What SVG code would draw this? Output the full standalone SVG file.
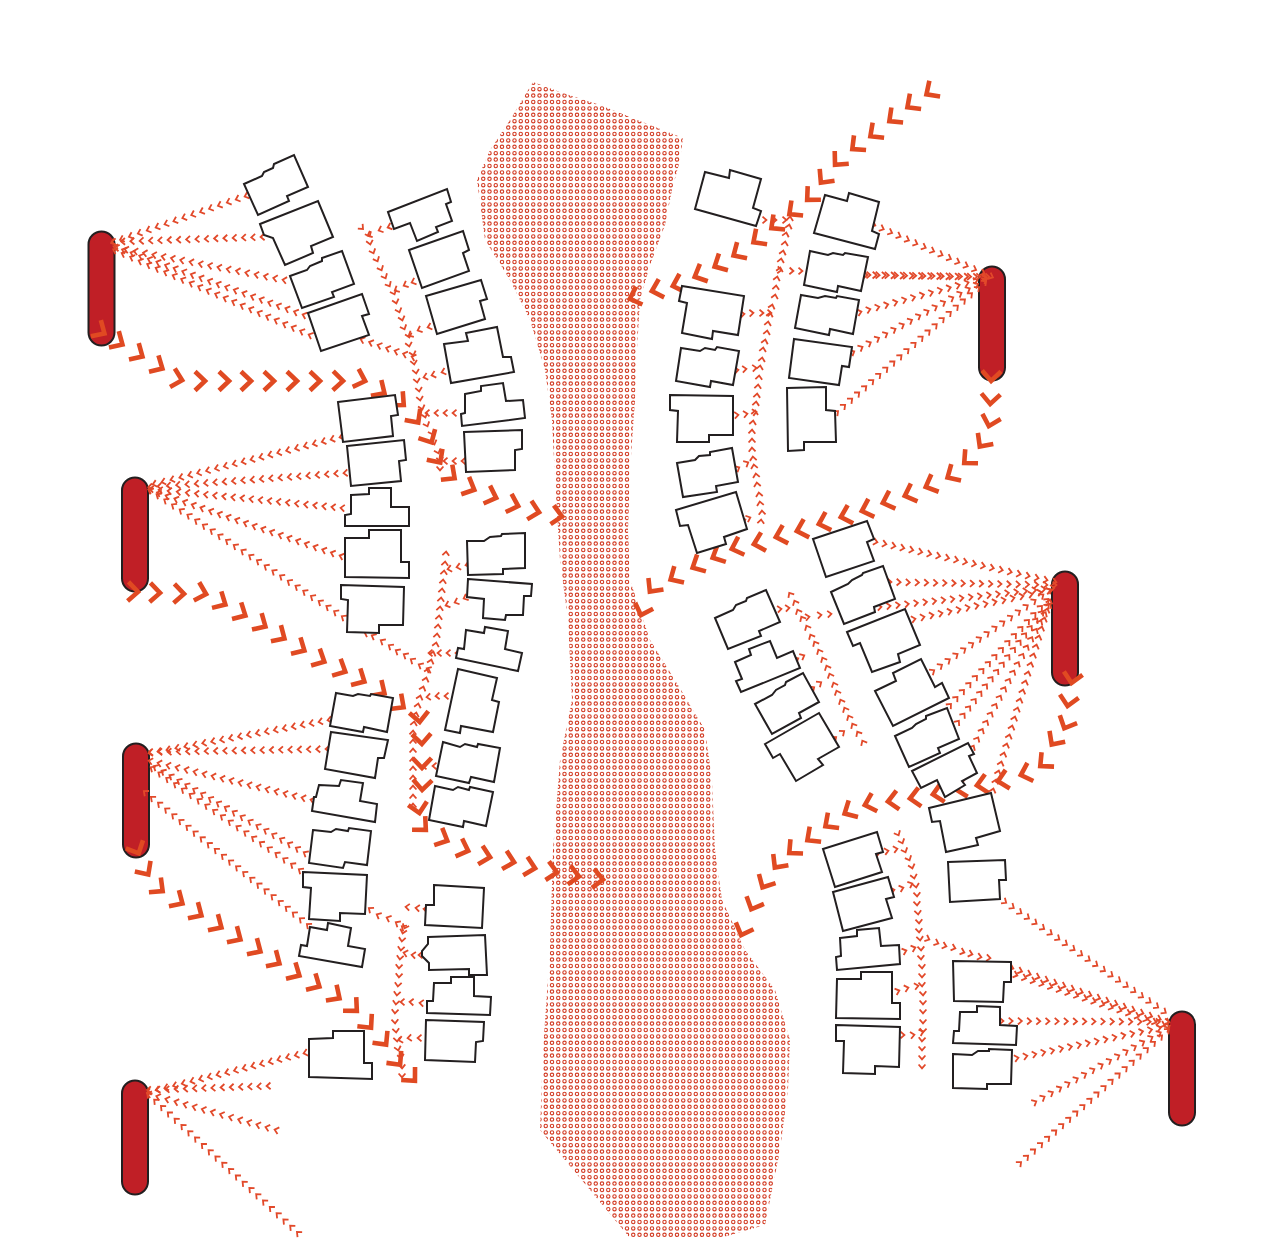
<svg xmlns="http://www.w3.org/2000/svg" width="1261" height="1244" viewBox="0 0 1261 1244">
<style>
.b{fill:#fff;stroke:#231f20;stroke-width:2;stroke-linejoin:miter}
.p{fill:#c01f26;stroke:#231f20;stroke-width:2}
.s{fill:none;stroke:none;marker-start:url(#sm);marker-mid:url(#sm);marker-end:url(#sm)}
.l{fill:none;stroke:none;marker-start:url(#lg);marker-mid:url(#lg);marker-end:url(#lg)}
.d{fill:#fff;stroke:#d23a22;stroke-width:1.1}
</style>
<defs>
<g id="dotrow"><circle class="d" cx="3" cy="0" r="1.7"/><circle class="d" cx="9.25" cy="0" r="1.7"/><circle class="d" cx="15.5" cy="0" r="1.7"/><circle class="d" cx="21.75" cy="0" r="1.7"/></g>
<pattern id="dots" patternUnits="userSpaceOnUse" x="524" y="86" width="25" height="32"><use href="#dotrow" y="3.2"/><use href="#dotrow" y="9.6"/><use href="#dotrow" y="16"/><use href="#dotrow" y="22.4"/><use href="#dotrow" y="28.8"/></pattern>
<marker id="sm" markerUnits="userSpaceOnUse" markerWidth="12" markerHeight="12" overflow="visible" orient="auto"><path d="M-2.5-3.4 1.4 0-2.500 3.4" fill="none" stroke="#e2492a" stroke-width="1.8"/></marker>
<marker id="lg" markerUnits="userSpaceOnUse" markerWidth="30" markerHeight="30" overflow="visible" orient="auto"><path d="M-13-9.500-3 0-13 9.500" fill="none" stroke="#e04a22" stroke-width="4.600"/></marker>
</defs>
<polygon id="river" fill="url(#dots)" points="533,82 560,92 600,105 650,125 683,138 680,160 672,190 665,225 650,265 640,300 637,350 635,400 630,470 628,530 630,580 650,640 675,680 705,730 712,780 715,850 722,900 745,950 775,990 790,1040 788,1090 780,1150 765,1225 720,1238 630,1238 590,1190 540,1130 543,1050 550,950 553,850 560,760 572,700 568,620 560,560 555,480 552,420 545,370 530,320 510,280 485,240 477,180 490,150 510,120"/>
<g id="pill1"><rect class="p" x="88.500" y="231.500" width="26" height="114" rx="13"/></g>
<g id="pill2"><rect class="p" x="122" y="477.500" width="26" height="114" rx="13"/></g>
<g id="pill3"><rect class="p" x="123" y="743.500" width="26" height="114" rx="13"/></g>
<g id="pill4"><rect class="p" x="122" y="1080.500" width="26" height="114" rx="13"/></g>
<g id="pill5"><rect class="p" x="979" y="266.500" width="26" height="114" rx="13"/></g>
<g id="pill6"><rect class="p" x="1052" y="571.500" width="26" height="114" rx="13"/></g>
<g id="pill7"><rect class="p" x="1169" y="1011.500" width="26" height="114" rx="13"/></g>
<g id="connectors">
<path class="l" d="M107 335 125 346 145 358 165 370 185 381 208 381 232 381 254 381 277 381 300 381 323 381 346 381 368 382 387 395 406 407 420 425 433 445 442 465 457 480 477 491 499 499 521 507 542 513 565 517"/>
<path class="l" d="M141 592 163 593 187 594 209 595 228 606 248 617 268 628 287 640 307 652 327 663 348 673 367 683 387 695 406 709"/>
<path class="l" d="M140 856 150 877 165 893 185 905 204 917 224 929 243 941 263 953 282 965 302 977 322 988 342 1000 359 1013 373 1030 388 1047 402 1067 417 1083"/>
<path class="l" d="M420 725 422 747 422 771 422 793 420 816 428 832 450 842 471 852 493 858 517 863 538 869 560 873 582 877 606 880"/>
<path class="l" d="M924 96 905 109 887 123 868 138 850 151 833 167 819 185 805 202 787 216 769 230 751 244 731 257 712 268 692 278 670 287 649 292 627 300"/>
<path class="l" d="M991 384 990 407 988 429 978 449 962 465 945 479 923 488 902 497 880 504 859 512 838 518 816 525 794 532 773 538 751 545 729 550 710 559 690 569 668 581 648 594 640 618"/>
<path class="l" d="M1071 686 1067 709 1063 731 1050 747 1038 768 1018 776 995 782 974 786 953 790 930 795 907 799 885 802 862 806 842 815 823 828 805 842 787 855 773 870 761 890 750 912 740 938"/>
<path class="s" d="M246 196l-8.900 3.100-8.900 3.100-8.900 3.100-8.900 3.100-8.900 3.100-8.900 3.100-8.900 3.100-8.900 3.100-8.900 3.100-8.900 3.100-8.900 3.100-8.900 3.100-8.900 3.100-8.900 3.100-8.900 3.100"/>
<path class="s" d="M262 237l-9.300.3-9.300.3-9.300.3-9.300.3-9.300.3-9.300.3-9.300.3-9.300.3-9.300.3-9.300.3-9.300.3-9.300.3-9.300.3-9.300.3-9.300.3-9.300.3"/>
<path class="s" d="M284 280l-9.300-1.800-9.300-1.800-9.300-1.800-9.300-1.800-9.300-1.800-9.300-1.800-9.300-1.800-9.300-1.800-9.300-1.800-9.300-1.800-9.300-1.800-9.300-1.800-9.300-1.800-9.300-1.800-9.300-1.800-9.300-1.800-9.300-1.800-9.300-1.800"/>
<path class="s" d="M304 315l-8.600-3.100-8.600-3.100-8.600-3.100-8.600-3.100-8.600-3.100-8.600-3.100-8.600-3.100-8.600-3.100-8.600-3.100-8.600-3.100-8.600-3.100-8.600-3.100-8.600-3.100-8.600-3.100-8.600-3.100-8.600-3.100-8.600-3.100-8.600-3.100-8.600-3.100-8.600-3.100-8.600-3.100-8.600-3.100"/>
<path class="s" d="M310 335l-8.500-3.700-8.500-3.700-8.500-3.700-8.500-3.700-8.500-3.700-8.500-3.700-8.500-3.700-8.500-3.700-8.500-3.700-8.500-3.700-8.500-3.700-8.500-3.700-8.500-3.700-8.500-3.700-8.500-3.700-8.500-3.700-8.500-3.700-8.500-3.700-8.500-3.700-8.500-3.700-8.500-3.700-8.500-3.700-8.500-3.700"/>
<path class="s" d="M413 357l-8.500-2.900-8.500-2.900-8.500-2.900-8.500-2.900-8.500-2.900-8.500-2.900"/>
<path class="s" d="M362 228 369 235 370 243 373 252 377 260 381 269 385 277 389 285 394 293 396 302 399 311 402 319 404 328 409 336 409 345 413 354 414 363 416 372 417 381 419 390 420 399 422 408 425 416 427 425 432 433 434 443 438 452 440 460 440 469"/>
<path class="s" d="M389 227 380 230 369 235"/>
<path class="s" d="M413 282 405 285 396 290"/>
<path class="s" d="M429 327 419 330 410 335"/>
<path class="s" d="M443 372 433 375 425 377"/>
<path class="s" d="M454 413 445 413 436 413 427 413"/>
<path class="s" d="M463 461 454 461 445 461"/>
<path class="s" d="M341 437l-8.900 2.240-8.900 2.240-8.900 2.240-8.900 2.240-8.900 2.240-8.900 2.240-8.900 2.240-8.900 2.240-8.900 2.240-8.900 2.240-8.900 2.240-8.900 2.240-8.900 2.240-8.900 2.240-8.900 2.240-8.900 2.240-8.900 2.240-8.900 2.240-8.900 2.240-8.900 2.240-8.900 2.240"/>
<path class="s" d="M345 473l-9.300.67-9.300.67-9.300.67-9.300.67-9.300.67-9.300.67-9.300.67-9.300.67-9.300.67-9.300.67-9.300.67-9.300.67-9.300.67-9.300.67-9.300.67-9.300.67-9.300.67-9.300.67-9.300.67-9.300.67-9.300.67"/>
<path class="s" d="M342 508l-9.100-.9-9.100-.9-9.100-.9-9.100-.9-9.100-.9-9.100-.9-9.100-.9-9.100-.9-9.100-.9-9.100-.9-9.100-.9-9.100-.9-9.100-.9-9.100-.9-9.100-.9-9.100-.9-9.100-.9-9.100-.9-9.100-.9-9.100-.9-9.100-.9"/>
<path class="s" d="M341 556l-8.700-3-8.700-3-8.700-3-8.700-3-8.700-3-8.700-3-8.700-3-8.700-3-8.700-3-8.700-3-8.700-3-8.700-3-8.700-3-8.700-3-8.700-3-8.700-3-8.700-3-8.700-3-8.700-3-8.700-3-8.700-3-8.700-3"/>
<path class="s" d="M343 617l-7.720-5.080-7.720-5.080-7.720-5.080-7.720-5.080-7.720-5.080-7.720-5.080-7.720-5.080-7.720-5.080-7.720-5.080-7.720-5.080-7.720-5.080-7.720-5.080-7.720-5.080-7.720-5.080-7.720-5.080-7.720-5.080-7.720-5.080-7.720-5.080-7.720-5.080-7.720-5.080-7.720-5.080-7.720-5.080-7.720-5.080-7.720-5.080-7.720-5.080"/>
<path class="s" d="M428 669 420 665 412 660 405 655 397 651 390 646 382 641 373 636 366 633"/>
<path class="s" d="M413 805 413 796 413 787 413 777 413 768 413 759 413 750 413 741 413 732 414 723 416 714 418 705 420 697 423 688 426 679 428 670 431 661 433 653 436 644 437 635 438 626 439 617 440 608 441 599 442 590 443 581 444 572 445 563 446 553"/>
<path class="s" d="M467 565 458 567 449 569"/>
<path class="s" d="M465 598 456 602 447 605"/>
<path class="s" d="M457 653 448 653 439 653 430 653"/>
<path class="s" d="M446 696 437 696 428 697"/>
<path class="s" d="M434 766 424 766"/>
<path class="s" d="M329 720l-8.950 1.650-8.950 1.650-8.950 1.650-8.950 1.650-8.950 1.650-8.950 1.650-8.950 1.650-8.950 1.650-8.950 1.650-8.950 1.650-8.950 1.650-8.950 1.650-8.950 1.650-8.950 1.650-8.950 1.650-8.950 1.650-8.950 1.650-8.950 1.650-8.950 1.650-8.950 1.650"/>
<path class="s" d="M327 749l-9.300.16-9.300.16-9.300.16-9.300.16-9.300.16-9.300.16-9.300.16-9.300.16-9.300.16-9.300.16-9.300.16-9.300.16-9.300.16-9.300.16-9.300.16-9.300.16-9.300.16-9.300.16-9.300.16"/>
<path class="s" d="M312 800l-9-2.170-9-2.170-9-2.170-9-2.170-9-2.170-9-2.170-9-2.170-9-2.170-9-2.170-9-2.170-9-2.170-9-2.170-9-2.170-9-2.170-9-2.170-9-2.170-9-2.170-9-2.170"/>
<path class="s" d="M305 853l-7.900-4.530-7.900-4.530-7.900-4.530-7.900-4.530-7.900-4.530-7.900-4.530-7.900-4.530-7.900-4.530-7.900-4.530-7.900-4.530-7.900-4.530-7.900-4.530-7.900-4.530-7.900-4.530-7.900-4.530-7.900-4.530-7.900-4.530-7.900-4.530-7.900-4.530"/>
<path class="s" d="M300 870l-7.800-5.370-7.800-5.370-7.800-5.370-7.800-5.370-7.800-5.370-7.800-5.370-7.800-5.370-7.800-5.370-7.800-5.370-7.800-5.370-7.800-5.370-7.800-5.370-7.800-5.370-7.800-5.370-7.800-5.370-7.800-5.370-7.800-5.370-7.800-5.370-7.800-5.370"/>
<path class="s" d="M308 925l-7.090-5.780-7.090-5.780-7.090-5.780-7.090-5.780-7.090-5.780-7.090-5.780-7.090-5.780-7.090-5.780-7.090-5.780-7.090-5.780-7.090-5.780-7.090-5.780-7.090-5.780-7.090-5.780-7.090-5.780-7.090-5.780-7.090-5.780-7.090-5.780-7.090-5.780-7.090-5.780-7.090-5.780-7.090-5.780-7.090-5.780"/>
<path class="s" d="M403 927 397 923 388 918 378 915 370 909"/>
<path class="s" d="M405 927 403 932 402 940 401 949 400 958 399 967 399 976 398 985 397 994 396 1003 395 1012 395 1022 396 1031 397 1040 398 1049 401 1057 402 1067 402 1076"/>
<path class="s" d="M425 909 417 908 407 907"/>
<path class="s" d="M420 955 413 955 405 953"/>
<path class="s" d="M421 1003 411 1002 402 1002"/>
<path class="s" d="M419 1038 409 1038 400 1040"/>
<path class="s" d="M305 1053l-8.700 2.170-8.700 2.170-8.700 2.170-8.700 2.170-8.700 2.170-8.700 2.170-8.700 2.170-8.700 2.170-8.700 2.170-8.700 2.170-8.700 2.170-8.700 2.170-8.700 2.170-8.700 2.170-8.700 2.170-8.700 2.170-8.700 2.170-8.700 2.170"/>
<path class="s" d="M268 1086l-9.200.3-9.200.3-9.200.3-9.200.3-9.200.3-9.200.3-9.200.3-9.200.3-9.200.3-9.200.3-9.200.3-9.200.3-9.200.3"/>
<path class="s" d="M276 1130l-9.100-2.570-9.100-2.570-9.100-2.570-9.100-2.570-9.100-2.570-9.100-2.570-9.100-2.570-9.100-2.570-9.100-2.570-9.100-2.570-9.100-2.570-9.100-2.570-9.100-2.570-9.100-2.570"/>
<path class="s" d="M298 1233l-6.800-6.300-6.800-6.300-6.800-6.300-6.800-6.300-6.800-6.300-6.800-6.300-6.800-6.300-6.800-6.300-6.800-6.300-6.800-6.300-6.800-6.300-6.800-6.300-6.800-6.300-6.800-6.300-6.800-6.300-6.800-6.300-6.800-6.300-6.800-6.300-6.800-6.300-6.800-6.300-6.800-6.300-6.800-6.300"/>
<path class="s" d="M874 225l8.400 3.700 8.400 3.700 8.400 3.700 8.400 3.700 8.400 3.700 8.400 3.700 8.400 3.700 8.400 3.700 8.400 3.700 8.400 3.700 8.400 3.700 8.400 3.700 8.400 3.700 8.400 3.700"/>
<path class="s" d="M866 275l9.150.15 9.150.15 9.150.15 9.150.15 9.150.15 9.150.15 9.150.15 9.150.15 9.150.15 9.150.15 9.150.15 9.150.15 9.150.15"/>
<path class="s" d="M869 275l9.150.15 9.150.15 9.150.15 9.150.15 9.150.15 9.150.15 9.150.15 9.150.15 9.150.15 9.150.15 9.150.15 9.150.15 9.150.15"/>
<path class="s" d="M860 312l8.930-2.430 8.930-2.430 8.930-2.430 8.930-2.430 8.930-2.430 8.930-2.430 8.930-2.430 8.930-2.430 8.930-2.430 8.930-2.430 8.930-2.430 8.930-2.430 8.930-2.430 8.930-2.430"/>
<path class="s" d="M853 352l8.250-4.500 8.250-4.500 8.250-4.500 8.250-4.500 8.250-4.500 8.250-4.500 8.250-4.500 8.250-4.500 8.250-4.500 8.250-4.500 8.250-4.500 8.250-4.500 8.250-4.500 8.250-4.500 8.250-4.500 8.250-4.500"/>
<path class="s" d="M837 412l7.050-6.200 7.050-6.200 7.050-6.200 7.050-6.200 7.050-6.200 7.050-6.200 7.050-6.200 7.050-6.200 7.050-6.200 7.050-6.200 7.050-6.200 7.050-6.200 7.050-6.200 7.050-6.200 7.050-6.200 7.050-6.200 7.050-6.200 7.050-6.200 7.050-6.200 7.050-6.200 7.050-6.200"/>
<path class="s" d="M761 521 762 512 760 503 759 494 757 484 756 475 754 466 753 458 752 449 752 440 752 431 753 422 755 412 756 403 757 395 758 386 759 377 760 367 762 359 763 349 765 341 767 332 768 323 770 314 772 306 775 296 776 287 777 278 780 269 781 260 783 252 785 243 786 234 789 226 790 218"/>
<path class="s" d="M765 220 775 220 785 220"/>
<path class="s" d="M780 270 792 271 801 271"/>
<path class="s" d="M743 314 752 313 762 313 770 313"/>
<path class="s" d="M737 370 745 369 755 368"/>
<path class="s" d="M737 415 746 414 755 412"/>
<path class="s" d="M738 468 747 463"/>
<path class="s" d="M744 520 749 518"/>
<path class="s" d="M876 542l8.950 2 8.950 2 8.950 2 8.950 2 8.950 2 8.950 2 8.950 2 8.950 2 8.950 2 8.950 2 8.950 2 8.950 2 8.950 2 8.950 2 8.950 2 8.950 2 8.950 2 8.950 2 8.950 2 8.950 2"/>
<path class="s" d="M890 582l9.170.17 9.170.17 9.170.17 9.170.17 9.170.17 9.170.17 9.170.17 9.170.17 9.170.17 9.170.17 9.170.17 9.170.17 9.170.17 9.170.17 9.170.17 9.170.17 9.170.17 9.170.17"/>
<path class="s" d="M880 607l9.100-1 9.100-1 9.100-1 9.100-1 9.100-1 9.100-1 9.100-1 9.100-1 9.100-1 9.100-1 9.100-1 9.100-1 9.100-1 9.100-1 9.100-1 9.100-1 9.100-1 9.100-1 9.100-1"/>
<path class="s" d="M914 619l9-1.900 9-1.900 9-1.900 9-1.900 9-1.900 9-1.900 9-1.900 9-1.900 9-1.900 9-1.900 9-1.900 9-1.900 9-1.900 9-1.900 9-1.900"/>
<path class="s" d="M933 671l7.800-5.400 7.800-5.400 7.800-5.400 7.800-5.400 7.800-5.400 7.800-5.400 7.800-5.400 7.800-5.400 7.800-5.400 7.800-5.400 7.800-5.400 7.800-5.400 7.800-5.400 7.800-5.400 7.800-5.400"/>
<path class="s" d="M950 705l6.500-7 6.500-7 6.500-7 6.500-7 6.500-7 6.500-7 6.500-7 6.500-7 6.500-7 6.500-7 6.500-7 6.500-7 6.500-7 6.500-7 6.500-7"/>
<path class="s" d="M958 722l5.600-7.300 5.600-7.300 5.600-7.300 5.600-7.300 5.600-7.300 5.600-7.300 5.600-7.300 5.600-7.300 5.600-7.300 5.600-7.300 5.600-7.300 5.600-7.300 5.600-7.300 5.600-7.300 5.600-7.300 5.600-7.300"/>
<path class="s" d="M973 747l4.500-8.350 4.500-8.350 4.500-8.350 4.500-8.350 4.500-8.350 4.500-8.350 4.500-8.350 4.500-8.350 4.500-8.350 4.500-8.350 4.500-8.350 4.500-8.350 4.500-8.350 4.500-8.350 4.500-8.350 4.500-8.350 4.500-8.350"/>
<path class="s" d="M993 790l2.700-9 2.700-9 2.700-9 2.700-9 2.700-9 2.700-9 2.700-9 2.700-9 2.700-9 2.700-9 2.700-9 2.700-9 2.700-9 2.700-9 2.700-9 2.700-9 2.700-9 2.700-9 2.700-9 2.700-9 2.700-9"/>
<path class="s" d="M863 742 858 733 853 725 849 717 845 709 841 701 837 692 834 684 830 675 827 667 823 659 819 651 815 643 811 636 807 627 802 618 798 611 795 602 790 594"/>
<path class="s" d="M780 609 788 608"/>
<path class="s" d="M808 617 820 615 830 614"/>
<path class="s" d="M797 659 803 656"/>
<path class="s" d="M813 688 820 683"/>
<path class="s" d="M835 738 843 732"/>
<path class="s" d="M1005 902l7.600 5.240 7.600 5.240 7.600 5.240 7.600 5.240 7.600 5.240 7.600 5.240 7.600 5.240 7.600 5.240 7.600 5.240 7.600 5.240 7.600 5.240 7.600 5.240 7.600 5.240 7.600 5.240 7.600 5.240 7.600 5.240 7.600 5.240 7.600 5.240 7.600 5.240 7.600 5.240 7.600 5.240"/>
<path class="s" d="M1012 968l8.670 3 8.670 3 8.670 3 8.670 3 8.670 3 8.670 3 8.670 3 8.670 3 8.670 3 8.670 3 8.670 3 8.670 3 8.670 3 8.670 3 8.670 3 8.670 3 8.670 3 8.670 3"/>
<path class="s" d="M1016 975l8.670 2.940 8.670 2.940 8.670 2.940 8.670 2.940 8.670 2.940 8.670 2.940 8.670 2.940 8.670 2.940 8.670 2.940 8.670 2.940 8.670 2.940 8.670 2.940 8.670 2.940 8.670 2.940 8.670 2.940 8.670 2.940 8.670 2.940"/>
<path class="s" d="M1002 1021l9.200.05 9.200.05 9.200.05 9.200.05 9.200.05 9.200.05 9.200.05 9.200.05 9.200.05 9.200.05 9.200.05 9.200.05 9.200.05 9.200.05 9.200.05 9.200.05 9.200.05 9.200.05"/>
<path class="s" d="M1017 1058l8.900-1.880 8.900-1.880 8.900-1.880 8.900-1.880 8.900-1.880 8.900-1.880 8.900-1.880 8.900-1.880 8.900-1.880 8.900-1.880 8.900-1.880 8.900-1.880 8.900-1.880 8.900-1.880 8.900-1.880 8.900-1.880 8.900-1.880"/>
<path class="s" d="M1035 1102l8.300-4.600 8.300-4.600 8.300-4.600 8.300-4.600 8.300-4.600 8.300-4.600 8.300-4.600 8.300-4.600 8.300-4.600 8.300-4.600 8.300-4.600 8.300-4.600 8.300-4.600 8.300-4.600 8.300-4.600 8.300-4.600"/>
<path class="s" d="M1020 1163l7.050-6.330 7.050-6.330 7.050-6.330 7.050-6.330 7.050-6.330 7.050-6.330 7.050-6.330 7.050-6.330 7.050-6.330 7.050-6.330 7.050-6.330 7.050-6.330 7.050-6.330 7.050-6.330 7.050-6.330 7.050-6.330 7.050-6.330 7.050-6.330 7.050-6.330 7.050-6.330 7.050-6.330"/>
<path class="s" d="M898 834 902 842 905 851 909 859 912 867 914 877 916 886 917 895 917 904 918 913 919 922 919 931 920 939 921 949 921 958 922 967 922 976 922 985 923 994 923 1003 923 1012 923 1022 923 1031 922 1040 922 1049 922 1058 922 1067"/>
<path class="s" d="M878 853 887 851 896 849"/>
<path class="s" d="M893 890 902 888 911 884"/>
<path class="s" d="M905 951 914 948"/>
<path class="s" d="M898 991 907 988 917 986"/>
<path class="s" d="M903 1035 913 1035 922 1032"/>
<path class="s" d="M928 939 937 943 945 946 954 948 963 952 971 954 980 957 989 958"/>
</g>
<g id="b01"><polygon class="b" points="244,184 262,176 264,172 273,168 274,164 294,155 308,187 287,196 289,201 258,215"/></g>
<g id="b02"><polygon class="b" points="260,224 318,201 333,237 311,246 313,253 285,265 273,238 264,235"/></g>
<g id="b03"><polygon class="b" points="290,276 307,270 310,266 322,261 322,258 342,251 354,284 332,292 334,297 302,308"/></g>
<g id="b04"><polygon class="b" points="308,313 362,294 369,314 362,316 369,335 321,351"/></g>
<g id="b05"><polygon class="b" points="388,212 447,189 451,202 446,204 452,221 436,227 438,232 417,241 410,223 394,229"/></g>
<g id="b06"><polygon class="b" points="409,250 463,231 469,250 463,253 469,271 422,288"/></g>
<g id="b07"><polygon class="b" points="426,296 481,280 487,299 480,301 485,319 437,334"/></g>
<g id="b08"><polygon class="b" points="444,344 468,341 466,333 497,327 503,357 511,357 514,372 451,383"/></g>
<g id="b09"><polygon class="b" points="465,394 481,391 481,386 503,383 506,401 523,400 525,418 462,426 461,414 465,413"/></g>
<g id="b10"><polygon class="b" points="464,432 522,430 522,449 515,450 515,470 466,472"/></g>
<g id="b11"><polygon class="b" points="338,402 395,395 398,415 391,416 393,436 343,442"/></g>
<g id="b12"><polygon class="b" points="347,446 404,440 406,460 399,461 401,481 351,486"/></g>
<g id="b13"><polygon class="b" points="351,495 369,494 369,488 391,488 391,507 409,507 409,526 345,526 345,515 351,514"/></g>
<g id="b14"><polygon class="b" points="345,538 369,538 369,530 401,530 401,562 409,562 409,578 345,577"/></g>
<g id="b15"><polygon class="b" points="341,585 404,587 403,625 379,625 379,633 347,632 348,600 341,599"/></g>
<g id="b16"><polygon class="b" points="467,541 484,541 490,537 501,536 502,534 525,533 525,568 503,569 503,574 468,575"/></g>
<g id="b17"><polygon class="b" points="468,579 532,584 531,596 524,596 523,615 506,615 505,620 483,618 484,599 467,597"/></g>
<g id="b18"><polygon class="b" points="466,630 484,633 485,627 508,631 505,649 522,653 518,671 456,658 458,648 464,649"/></g>
<g id="b19"><polygon class="b" points="458,669 497,678 492,700 499,702 493,732 461,726 460,733 445,730"/></g>
<g id="b20"><polygon class="b" points="443,742 460,747 465,744 477,747 478,744 500,748 494,782 471,777 469,783 436,776"/></g>
<g id="b21"><polygon class="b" points="435,786 453,790 458,787 469,790 470,787 493,792 486,826 464,821 463,827 429,820"/></g>
<g id="b22"><polygon class="b" points="336,693 353,696 358,694 370,696 371,694 393,698 387,732 364,727 363,732 330,726"/></g>
<g id="b23"><polygon class="b" points="331,732 388,740 384,758 378,758 375,778 325,769"/></g>
<g id="b24"><polygon class="b" points="319,785 339,786 341,780 363,783 360,801 377,804 375,822 312,811 314,797 316,797"/></g>
<g id="b25"><polygon class="b" points="313,830 331,832 336,829 348,831 349,828 371,831 367,865 345,862 343,868 309,863"/></g>
<g id="b26"><polygon class="b" points="303,872 367,875 365,914 340,913 340,921 309,919 311,888 303,887"/></g>
<g id="b27"><polygon class="b" points="310,927 327,930 328,923 351,928 348,946 365,949 362,967 299,956 301,945 307,946"/></g>
<g id="b28"><polygon class="b" points="434,885 484,888 482,928 425,925 426,905 434,905"/></g>
<g id="b29"><polygon class="b" points="428,937 485,935 487,975 469,975 469,969 429,970 429,963 422,956 422,951 428,944"/></g>
<g id="b30"><polygon class="b" points="434,983 451,983 451,977 474,977 474,996 491,997 490,1015 427,1013 427,1001 433,1001"/></g>
<g id="b31"><polygon class="b" points="426,1020 484,1022 483,1041 476,1042 475,1062 425,1060"/></g>
<g id="b32"><polygon class="b" points="309,1039 333,1038 333,1031 364,1031 364,1063 372,1063 372,1079 309,1077"/></g>
<g id="r01"><polygon class="b" points="705,172 729,178 730,170 761,179 753,208 761,211 756,226 695,209"/></g>
<g id="r02"><polygon class="b" points="825,195 847,201 849,193 879,202 872,231 879,234 875,249 814,233"/></g>
<g id="r03"><polygon class="b" points="810,251 828,255 833,253 843,255 845,253 868,257 861,291 838,286 837,292 804,285"/></g>
<g id="r04"><polygon class="b" points="801,295 818,298 825,296 836,298 837,296 859,300 853,334 830,329 829,335 795,328"/></g>
<g id="r05"><polygon class="b" points="794,339 852,347 849,367 842,366 839,385 789,378"/></g>
<g id="r06"><polygon class="b" points="787,388 826,387 826,410 835,411 836,442 804,442 804,450 788,451"/></g>
<g id="r07"><polygon class="b" points="682,286 744,296 738,335 713,331 712,339 682,333 687,303 679,301"/></g>
<g id="r08"><polygon class="b" points="681,348 700,351 705,348 715,350 717,347 739,351 733,385 711,381 710,387 676,381"/></g>
<g id="r09"><polygon class="b" points="670,395 733,396 733,435 709,435 709,442 677,442 678,411 670,410"/></g>
<g id="r10"><polygon class="b" points="677,463 695,460 699,456 710,455 710,452 732,448 738,482 716,486 717,492 683,497"/></g>
<g id="r11"><polygon class="b" points="676,510 736,492 747,529 724,537 726,544 697,553 688,525 680,526"/></g>
<g id="c01"><polygon class="b" points="813,539 867,521 874,539 867,542 874,561 826,577"/></g>
<g id="c02"><polygon class="b" points="831,592 848,584 852,580 862,575 863,573 883,566 895,599 874,607 875,612 844,624"/></g>
<g id="c03"><polygon class="b" points="847,632 905,609 920,645 898,654 900,662 872,672 860,643 853,646"/></g>
<g id="c04"><polygon class="b" points="875,691 896,681 893,673 921,659 935,687 942,683 949,698 893,726"/></g>
<g id="c05"><polygon class="b" points="895,736 912,728 916,724 926,719 926,716 947,708 959,739 938,748 940,753 909,767"/></g>
<g id="c06"><polygon class="b" points="912,771 968,743 974,754 969,756 977,773 962,781 965,785 945,797 937,780 921,788"/></g>
<g id="c07"><polygon class="b" points="929,808 991,793 1000,831 976,838 978,845 946,852 940,821 932,822"/></g>
<g id="l01"><polygon class="b" points="715,618 733,610 736,605 746,601 747,598 766,590 780,622 759,631 761,636 728,649"/></g>
<g id="l02"><polygon class="b" points="735,662 751,655 749,649 770,641 777,658 793,651 800,668 741,692 736,681 742,679"/></g>
<g id="l03"><polygon class="b" points="755,704 772,695 776,690 785,685 786,682 803,673 819,702 799,713 801,718 772,734"/></g>
<g id="l04"><polygon class="b" points="765,744 819,713 839,747 818,759 823,765 796,781 780,754 773,758"/></g>
<g id="d01"><polygon class="b" points="823,849 877,832 883,852 876,854 882,872 835,887"/></g>
<g id="d02"><polygon class="b" points="833,892 888,877 894,897 886,899 892,918 843,931"/></g>
<g id="d03"><polygon class="b" points="840,938 857,936 857,930 879,928 881,946 899,945 900,964 837,970 836,957 841,956"/></g>
<g id="d04"><polygon class="b" points="837,979 861,979 861,972 892,972 892,1003 900,1003 900,1019 836,1018"/></g>
<g id="d05"><polygon class="b" points="836,1025 900,1027 899,1067 875,1066 875,1074 843,1073 844,1041 836,1041"/></g>
<g id="d06"><polygon class="b" points="953,961 1011,962 1011,982 1004,982 1003,1002 954,1001"/></g>
<g id="d07"><polygon class="b" points="960,1012 977,1012 977,1006 1000,1007 1000,1025 1017,1026 1016,1045 953,1043 954,1031 959,1031"/></g>
<g id="d08"><polygon class="b" points="953,1054 972,1055 978,1051 989,1051 989,1049 1012,1050 1011,1084 987,1084 987,1089 953,1088"/></g>
<g id="d09"><polygon class="b" points="948,862 1005,860 1006,880 999,880 1000,899 950,902"/></g>
</svg>
